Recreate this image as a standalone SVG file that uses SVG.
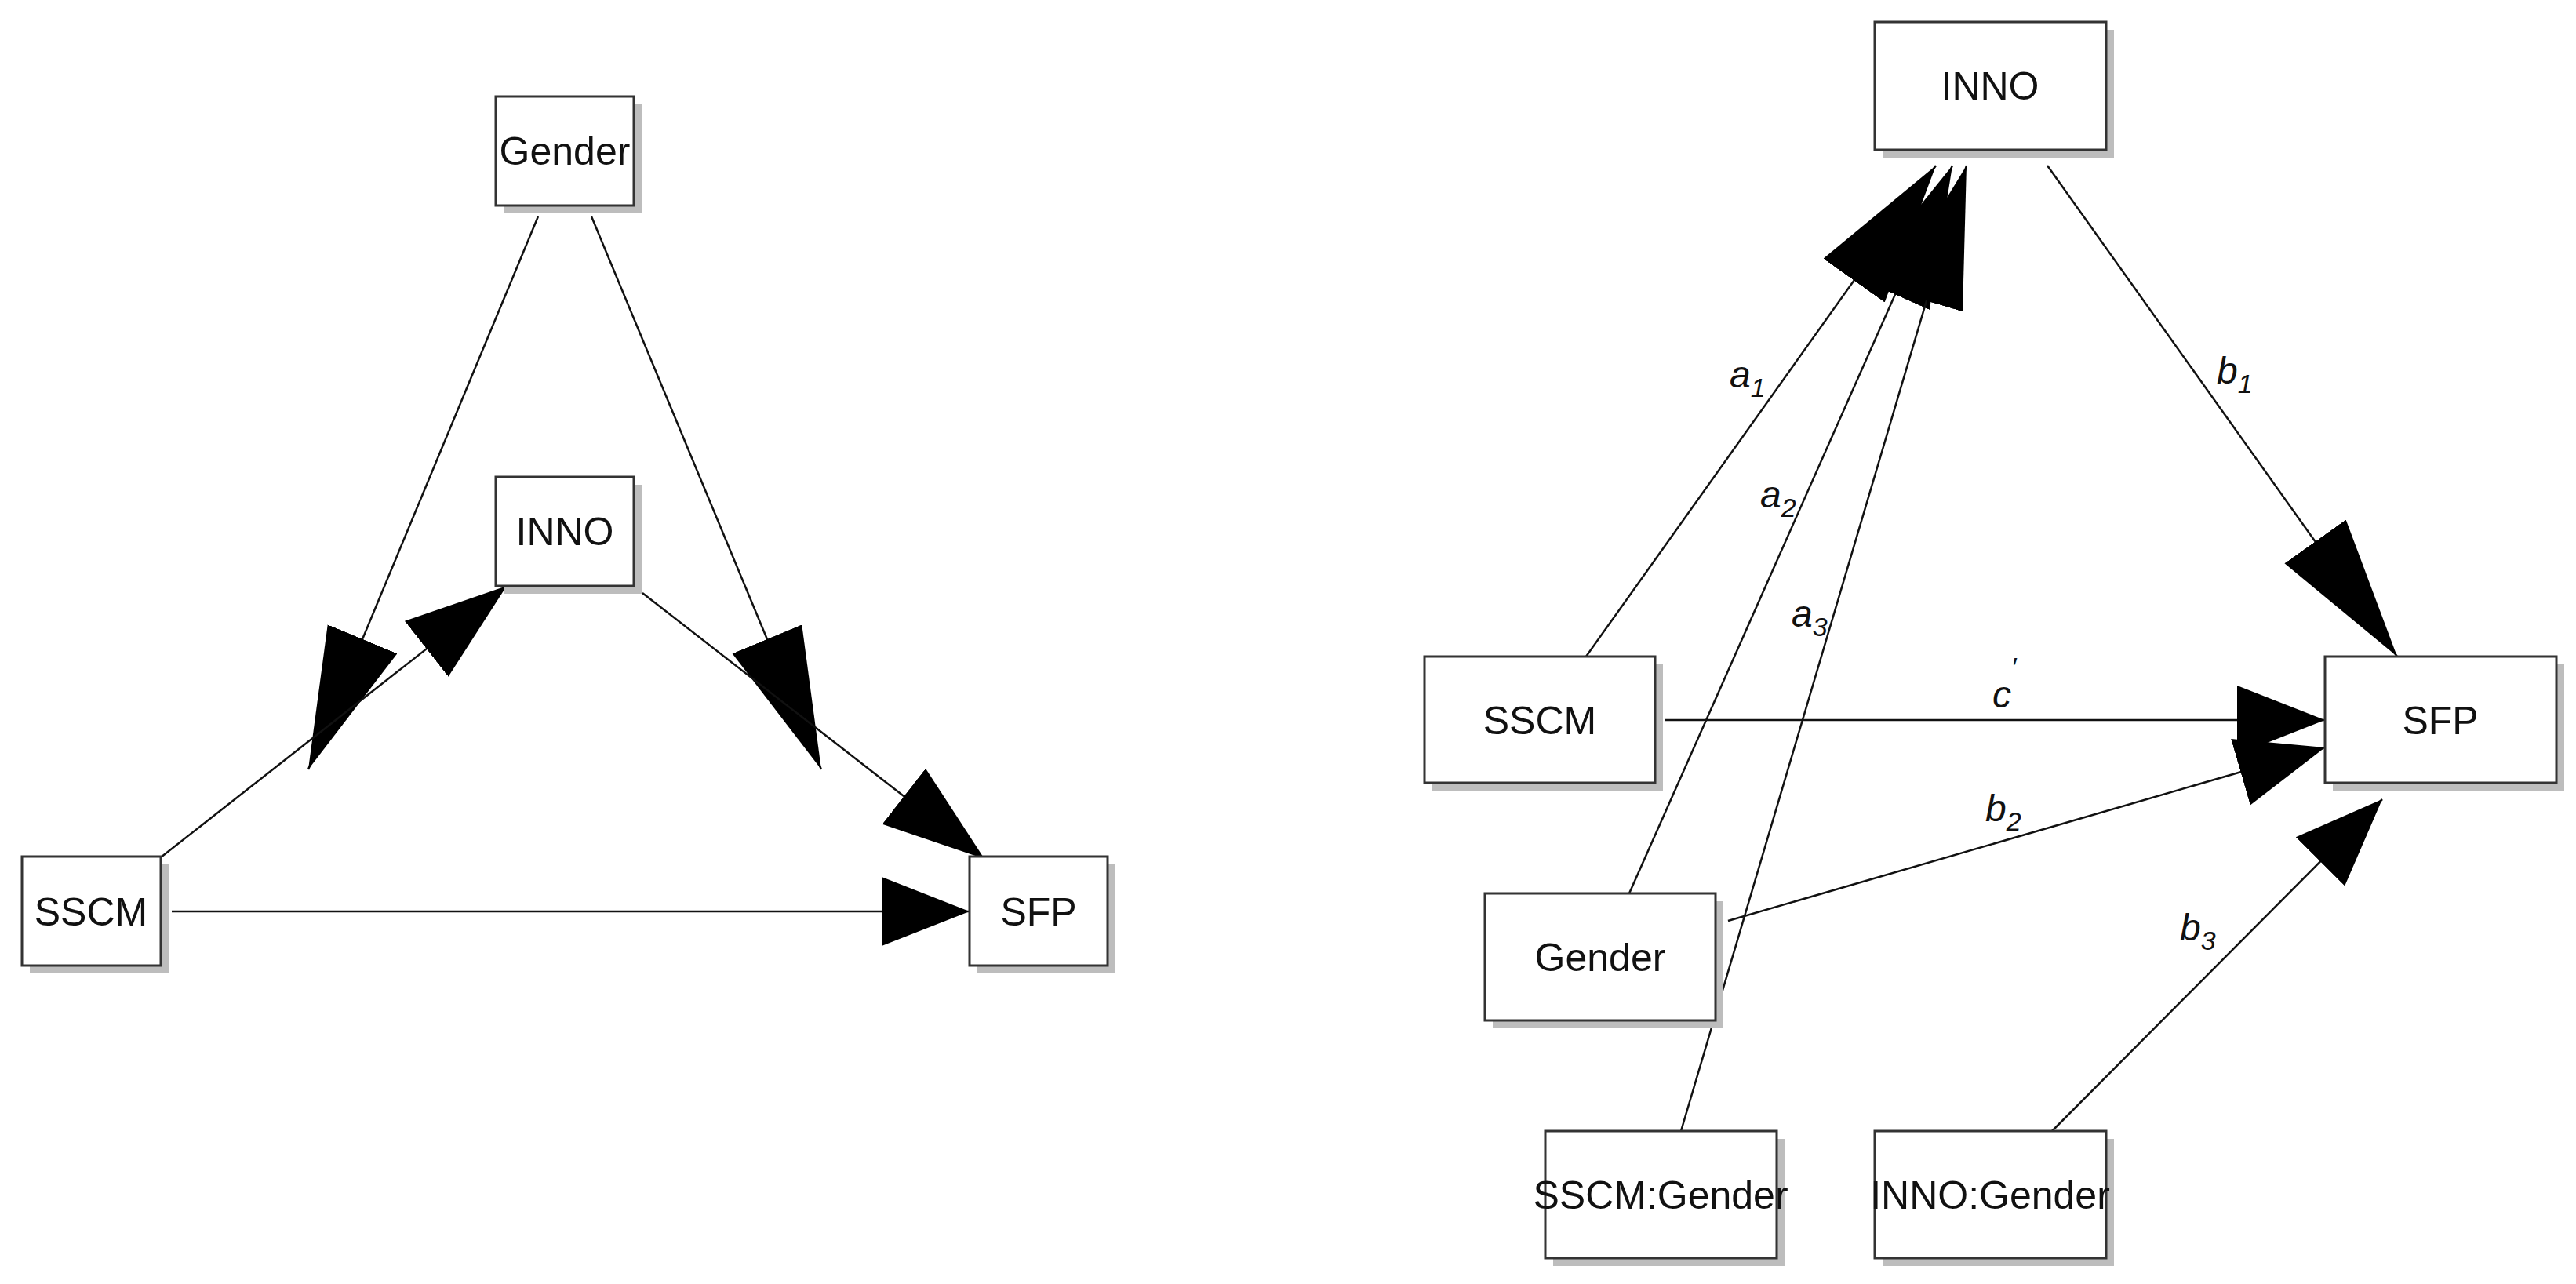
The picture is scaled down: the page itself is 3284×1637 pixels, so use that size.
<svg xmlns="http://www.w3.org/2000/svg" width="3284" height="1637" viewBox="0 0 3284 1637">
<style>
.bx{fill:#fff;stroke:#333;stroke-width:3}
.sh{fill:#bdbdbd}
.t{font-family:"Liberation Sans",Arial,sans-serif;font-size:50px;text-anchor:middle;fill:#111}
.l{font-family:"Liberation Sans",Arial,sans-serif;font-size:48px;font-style:italic;fill:#111}
.s{font-size:34px}
.e{stroke:#111;stroke-width:2.5;fill:none}
</style>
<defs>
<marker id="aL" markerUnits="userSpaceOnUse" markerWidth="190" markerHeight="100" refX="180" refY="48" orient="auto" viewBox="0 0 190 100"><path d="M0,0 L180,48 L0,96 Z" fill="#000"/></marker>
<marker id="aM" markerUnits="userSpaceOnUse" markerWidth="140" markerHeight="100" refX="130" refY="48" orient="auto" viewBox="0 0 140 100"><path d="M0,3 L130,48 L0,93 Z" fill="#000"/></marker>
<marker id="aS" markerUnits="userSpaceOnUse" markerWidth="120" markerHeight="100" refX="112" refY="48" orient="auto" viewBox="0 0 120 100"><path d="M0,4 L112,48 L0,92 Z" fill="#000"/></marker>
</defs>
<g id="connectors">
<line class="e" x1="686" y1="276" x2="393" y2="981" marker-end="url(#aL)"/>
<line class="e" x1="754" y1="276" x2="1047" y2="981" marker-end="url(#aL)"/>
<line class="e" x1="205" y1="1093" x2="646" y2="747" marker-end="url(#aM)"/>
<line class="e" x1="819" y1="756" x2="1255" y2="1095" marker-end="url(#aM)"/>
<line class="e" x1="219" y1="1162" x2="1236" y2="1162" marker-end="url(#aS)"/>
<line class="e" x1="2022" y1="837" x2="2468" y2="211" marker-end="url(#aL)"/>
<line class="e" x1="2077" y1="1139" x2="2489" y2="211" marker-end="url(#aL)"/>
<line class="e" x1="2143" y1="1442" x2="2507" y2="211" marker-end="url(#aL)"/>
<line class="e" x1="2610" y1="211" x2="3056" y2="837" marker-end="url(#aL)"/>
<line class="e" x1="2123" y1="918" x2="2964" y2="918" marker-end="url(#aS)"/>
<line class="e" x1="2203" y1="1174" x2="2964" y2="953" marker-end="url(#aS)"/>
<line class="e" x1="2616" y1="1442" x2="3037" y2="1019" marker-end="url(#aS)"/>
</g>
<g id="L-Gender"><rect class="sh" x="642" y="133" width="176" height="139"/><rect class="bx" x="632" y="123" width="176" height="139"/><text class="t" x="720" y="210">Gender</text></g>
<g id="L-INNO"><rect class="sh" x="642" y="618" width="176" height="139"/><rect class="bx" x="632" y="608" width="176" height="139"/><text class="t" x="720" y="695">INNO</text></g>
<g id="L-SSCM"><rect class="sh" x="38" y="1102" width="177" height="139"/><rect class="bx" x="28" y="1092" width="177" height="139"/><text class="t" x="116" y="1180">SSCM</text></g>
<g id="L-SFP"><rect class="sh" x="1246" y="1102" width="176" height="139"/><rect class="bx" x="1236" y="1092" width="176" height="139"/><text class="t" x="1324" y="1180">SFP</text></g>
<g id="R-INNO"><rect class="sh" x="2400" y="38" width="295" height="163"/><rect class="bx" x="2390" y="28" width="295" height="163"/><text class="t" x="2537" y="127">INNO</text></g>
<g id="R-SSCM"><rect class="sh" x="1826" y="847" width="294" height="161"/><rect class="bx" x="1816" y="837" width="294" height="161"/><text class="t" x="1963" y="936">SSCM</text></g>
<g id="R-SFP"><rect class="sh" x="2974" y="847" width="295" height="161"/><rect class="bx" x="2964" y="837" width="295" height="161"/><text class="t" x="3111" y="936">SFP</text></g>
<g id="R-Gender"><rect class="sh" x="1903" y="1149" width="294" height="162"/><rect class="bx" x="1893" y="1139" width="294" height="162"/><text class="t" x="2040" y="1238">Gender</text></g>
<g id="R-SSCMGender"><rect class="sh" x="1980" y="1452" width="295" height="162"/><rect class="bx" x="1970" y="1442" width="295" height="162"/><text class="t" x="2117" y="1541">SSCM:Gender</text></g>
<g id="R-INNOGender"><rect class="sh" x="2400" y="1452" width="295" height="162"/><rect class="bx" x="2390" y="1442" width="295" height="162"/><text class="t" x="2537" y="1541">INNO:Gender</text></g>
<g id="labels">
<text class="l" x="2205" y="494">a<tspan class="s" dy="12">1</tspan></text>
<text class="l" x="2244" y="647">a<tspan class="s" dy="12">2</tspan></text>
<text class="l" x="2284" y="799">a<tspan class="s" dy="12">3</tspan></text>
<text class="l" x="2826" y="489">b<tspan class="s" dy="12">1</tspan></text>
<text class="l" x="2540" y="902">c<tspan class="s" dy="-40">′</tspan></text>
<text class="l" x="2531" y="1047">b<tspan class="s" dy="12">2</tspan></text>
<text class="l" x="2779" y="1199">b<tspan class="s" dy="12">3</tspan></text>
</g>
</svg>
